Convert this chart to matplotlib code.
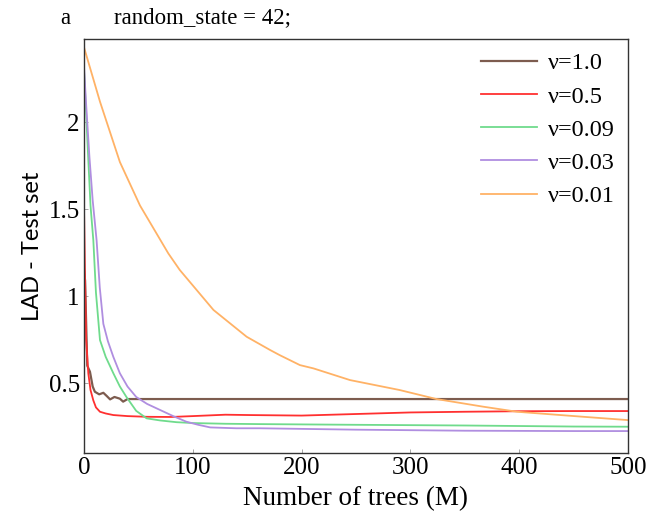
import numpy as np
import matplotlib.pyplot as plt

# 讀取的曲線資料 (樹的數量, LAD)
trees_10 = [0, 1, 3, 5.5, 8, 10, 14, 17.8, 21, 24, 28, 33, 36, 40, 60, 100, 200, 300, 400, 500]
lad_10 = [1.15, 1.09, 0.60, 0.565, 0.48, 0.45, 0.435, 0.444, 0.425, 0.406, 0.42, 0.41,
          0.393, 0.408, 0.408, 0.408, 0.408, 0.408, 0.408, 0.408]

trees_05 = [0, 1, 2, 4, 6, 8.6, 11, 14.7, 20, 27, 40, 57.6, 80, 100, 130, 152, 200, 250, 300, 350, 400, 450, 500]
lad_05 = [1.52, 1.10, 0.75, 0.555, 0.46, 0.40, 0.36, 0.335, 0.325, 0.316, 0.31, 0.306, 0.305,
          0.31, 0.318, 0.316, 0.313, 0.322, 0.331, 0.335, 0.338, 0.339, 0.339]

trees_009 = [0, 2, 4, 6, 8.6, 11, 14.7, 20, 27, 33, 39, 48, 57.6, 70, 85, 100, 130, 162, 250, 350, 450, 500]
lad_009 = [2.30, 2.05, 1.78, 1.52, 1.32, 1.02, 0.747, 0.65, 0.556, 0.48, 0.42, 0.34, 0.297,
           0.285, 0.275, 0.27, 0.266, 0.264, 0.26, 0.256, 0.25, 0.249]

trees_003 = [0, 2, 5, 8, 11.6, 14.5, 17.8, 22, 27, 33, 40, 48, 58, 70, 82, 94, 105, 116, 140, 162, 250, 350, 450, 500]
lad_003 = [2.32, 2.10, 1.80, 1.55, 1.32, 1.05, 0.84, 0.74, 0.65, 0.556, 0.48, 0.42, 0.38,
           0.345, 0.31, 0.278, 0.26, 0.245, 0.24, 0.24, 0.232, 0.226, 0.224, 0.224]

trees_001 = [0, 14.7, 33, 51.5, 77.5, 88, 119, 149.5, 171, 180, 198.5, 211, 244.5, 290,
             324, 367, 398, 459, 500]
lad_001 = [2.43, 2.117, 1.77, 1.52, 1.245, 1.15, 0.92, 0.766, 0.69, 0.66, 0.603, 0.584,
           0.517, 0.46, 0.408, 0.364, 0.335, 0.306, 0.287]

series = [
    (trees_10, lad_10, "ν=1.0", "#7d5c4f", 1.6),
    (trees_05, lad_05, "ν=0.5", "#ff3030", 1.3),
    (trees_009, lad_009, "ν=0.09", "#6fdb8c", 1.3),
    (trees_003, lad_003, "ν=0.03", "#b08ee0", 1.3),
    (trees_001, lad_001, "ν=0.01", "#ffb266", 1.3),
]

serif = ["Liberation Serif", "DejaVu Serif"]

fig = plt.figure(figsize=(6.52, 5.30), dpi=100)
ax = fig.add_axes([0.1288, 0.1453, 0.8344, 0.7811])

for x, y, label, color, lw in series:
    ax.plot(x, y, color=color, lw=lw, label=label)

ax.set_xlim(0, 500)
ax.set_ylim(0.098, 2.477)
ax.set_xticks([0, 100, 200, 300, 400, 500])
ax.set_yticks([0.5, 1, 1.5, 2])
ax.set_yticklabels(["0.5", "1", "1.5", "2"])
ax.tick_params(direction="in", length=3, width=0.6, color="#999999", labelsize=18, pad=3)
for lab in ax.get_xticklabels() + ax.get_yticklabels():
    lab.set_family(serif)

for s in ax.spines.values():
    s.set_color("#333333")
    s.set_linewidth(1.0)

ax.set_xlabel("Number of trees (M)", fontsize=19.5, family=serif, labelpad=5)
ax.set_ylabel("LAD - Test set", fontsize=17, family=["Lato", "DejaVu Sans"], labelpad=4)

fig.text(0.092, 0.966, "a", fontsize=16.5, family=serif, va="center")
fig.text(0.175, 0.966, "random_state = 42;", fontsize=16.5, family=serif, va="center")

leg = ax.legend(loc="upper right", frameon=False, prop={"family": serif, "size": 17.5},
                handlelength=2.3, labelspacing=0.46, handletextpad=0.45,
                borderaxespad=0.15)

fig.savefig("out.png", dpi=100)
